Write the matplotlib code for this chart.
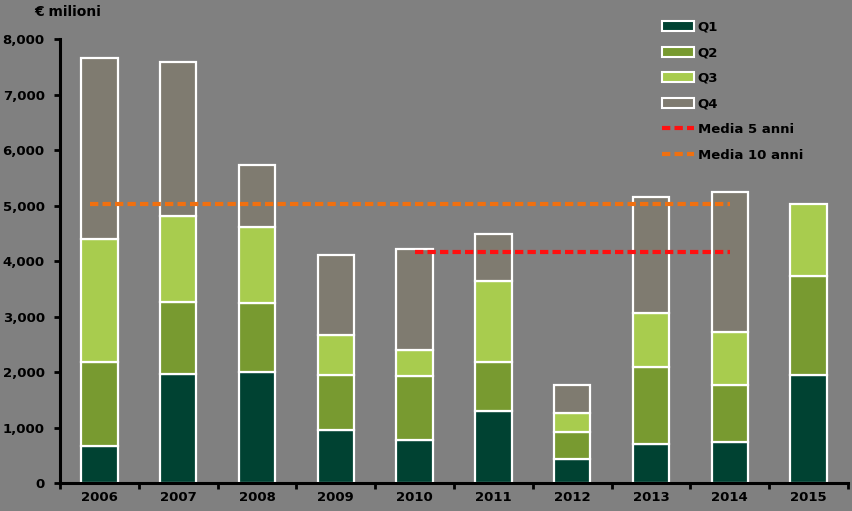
import matplotlib
matplotlib.use("Agg")
import matplotlib.pyplot as plt
from matplotlib.patches import Patch
from matplotlib.lines import Line2D
import numpy as np

years = ["2006", "2007", "2008", "2009", "2010", "2011", "2012", "2013", "2014", "2015"]
q1 = [670, 1960, 2000, 955, 775, 1300, 430, 700, 740, 1950]
q2 = [1510, 1300, 1240, 990, 1150, 880, 490, 1390, 1030, 1780]
q3 = [2220, 1550, 1370, 720, 470, 1460, 340, 970, 955, 1300]
q4 = [3260, 2775, 1120, 1440, 1820, 850, 505, 2090, 2520, 0]
media5 = 4160
media10 = 5030
media5_span = [4, 8]
media10_span = [-0.12, 8]
yticks = [0, 1000, 2000, 3000, 4000, 5000, 6000, 7000, 8000]

colors = ["#004232", "#789a30", "#a8cc4e", "#7f7b70"]
labels = ["Q1", "Q2", "Q3", "Q4"]
bg = "#808080"

fig = plt.figure(figsize=(8.52, 5.11), dpi=100, facecolor=bg)
ax = fig.add_axes([60/852, 28/511, 788/852, 444/511])
ax.set_facecolor(bg)

x = np.arange(len(years))
bottom = np.zeros(len(years))
for vals, c in zip([q1, q2, q3, q4], colors):
    v = np.array(vals, dtype=float)
    mask = v > 0
    ax.bar(x[mask], v[mask], bottom=bottom[mask], width=0.46, color=c,
           edgecolor="white", linewidth=1.6, zorder=2)
    bottom += v

ax.plot(media10_span, [media10, media10], color="#f07010", lw=3,
        linestyle=(0, (2, 1)), zorder=3)
ax.plot(media5_span, [media5, media5], color="#ff1010", lw=3,
        linestyle=(0, (2, 1)), zorder=3)

ax.set_xlim(-0.5, len(years) - 0.5)
ax.set_ylim(0, 8000)
ax.set_yticks(yticks)
ax.set_yticklabels([f"{t:,}" for t in yticks], fontsize=9.5, fontweight="bold")
ax.set_xticks(x)
ax.set_xticklabels(years, fontsize=9.5, fontweight="bold")
ax.tick_params(axis="x", which="major", length=0, pad=6)
ax.set_xticks(np.arange(-0.5, len(years) + 0.5, 1), minor=True)
ax.tick_params(axis="x", which="minor", length=4, width=2, direction="out")
ax.tick_params(axis="y", length=4, width=2, direction="out", pad=7)
for s in ["top", "right"]:
    ax.spines[s].set_visible(False)
for s in ["left", "bottom"]:
    ax.spines[s].set_linewidth(2.2)
    ax.spines[s].set_color("black")

fig.text(34/852, 1 - 12/511, "€ milioni", fontsize=10, fontweight="bold",
         va="center", ha="left")

handles = [Patch(facecolor=c, edgecolor="white", linewidth=1.5) for c in colors]
handles += [Line2D([0], [0], color="#ff1010", lw=3, linestyle=(0, (2, 1))),
            Line2D([0], [0], color="#f07010", lw=3, linestyle=(0, (2, 1)))]
leg = fig.legend(handles, labels + ["Media 5 anni", "Media 10 anni"],
                 loc="upper left", bbox_to_anchor=(650/852, 1 - 9/511),
                 frameon=False, prop={"size": 9.5, "weight": "bold"},
                 handlelength=2.4, handleheight=0.8, handletextpad=0.3,
                 labelspacing=0.95)

fig.savefig("out.png", dpi=100, facecolor=bg)
